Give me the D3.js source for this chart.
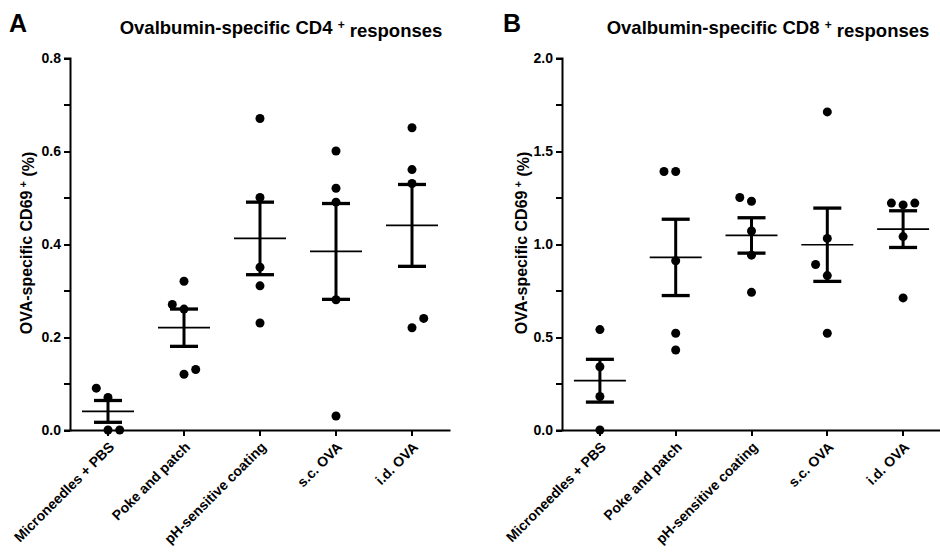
<!DOCTYPE html>
<html>
<head>
<meta charset="utf-8">
<script src="https://cdn.jsdelivr.net/npm/d3@7"></script>
<style>
  body { margin: 0; background: #fff; }
  svg { display: block; font-family: "Liberation Sans", Arial, Helvetica, sans-serif; font-weight: bold; }
</style>
</head>
<body>
<svg id="chart" width="940" height="552"></svg>
<script>
// Treatment groups (shared by both panels)
const groups = ["Microneedles + PBS", "Poke and patch", "pH-sensitive coating", "s.c. OVA", "i.d. OVA"];

// Individual animals, % OVA-specific CD69+ cells
const cd4Values = [
  [0.09, 0.07, 0.00, 0.00],
  [0.32, 0.27, 0.26, 0.12, 0.13],
  [0.67, 0.50, 0.35, 0.31, 0.23],
  [0.60, 0.52, 0.49, 0.28, 0.03],
  [0.65, 0.56, 0.53, 0.22, 0.24]
];
const cd8Values = [
  [0.54, 0.34, 0.18, 0.00],
  [1.39, 1.39, 0.91, 0.52, 0.43],
  [1.25, 1.23, 1.07, 0.94, 0.74],
  [1.71, 1.03, 0.89, 0.83, 0.52],
  [1.22, 1.21, 1.22, 1.04, 0.71]
];

// Axis ticks (labelled and minor)
const cd4Ticks = [0, 0.2, 0.4, 0.6, 0.8];
const cd4Minor = [0.1, 0.3, 0.5, 0.7];
const cd8Ticks = [0, 0.5, 1.0, 1.5, 2.0];
const cd8Minor = [0.25, 0.75, 1.25, 1.75];

const svg = d3.select("#chart");

const panels = [
  { letter: "A", cell: "CD4", values: cd4Values, ticks: cd4Ticks, minor: cd4Minor,
    x0: 70, x1: 450, letterX: 9, titleX: 281, yTitleX: 31.5, firstSide: 1 },
  { letter: "B", cell: "CD8", values: cd8Values, ticks: cd8Ticks, minor: cd8Minor,
    x0: 562, x1: 941, letterX: 503, titleX: 768, yTitleX: 527, firstSide: -1 }
];

const plotTop = 58, plotBottom = 430;
const dotR = 4.5, slotW = 11.7, clash = 12;

panels.forEach(p => {
  const g = svg.append("g");
  const x = d3.scaleBand().domain(groups).range([p.x0, p.x1]);
  const y = d3.scaleLinear().domain([0, d3.max(p.ticks)]).range([plotBottom, plotTop]);

  // panel letter and title
  g.append("text").attr("x", p.letterX).attr("y", 32)
    .style("font-size", "25px").text(p.letter);
  const t = g.append("text").attr("x", p.titleX).attr("y", 34)
    .attr("text-anchor", "middle").style("font-size", "18.5px");
  t.append("tspan").text(`Ovalbumin-specific ${p.cell} `);
  t.append("tspan").attr("dy", "-0.45em").style("font-size", "12px").text("+");
  t.append("tspan").attr("dy", "0.45em").text(" responses");

  // y axis
  const yAxis = g.append("g").attr("transform", `translate(${p.x0},0)`)
    .call(d3.axisLeft(y).tickValues(p.ticks).tickSize(6).tickPadding(3)
      .tickFormat(d3.format(".1f")));
  yAxis.selectAll(".tick text").style("font-size", "14px").style("font-weight", "bold");
  g.append("g").attr("transform", `translate(${p.x0},0)`)
    .call(d3.axisLeft(y).tickValues(p.minor).tickSize(6).tickFormat(""))
    .select(".domain").remove();

  // x axis
  const xAxis = g.append("g").attr("transform", `translate(0,${plotBottom})`)
    .call(d3.axisBottom(x).tickSize(6).tickSizeOuter(0));
  xAxis.selectAll(".tick text")
    .attr("text-anchor", "end")
    .attr("x", 0).attr("y", 0).attr("dy", 0)
    .attr("transform", "translate(7,18) rotate(-45)")
    .style("font-size", "14px").style("font-weight", "bold");

  g.selectAll(".domain, .tick line").attr("stroke", "#000").attr("stroke-width", 2);
  g.selectAll(".tick line").attr("shape-rendering", "crispEdges");

  // y axis title
  const yt = g.append("text")
    .attr("transform", `translate(${p.yTitleX},${(plotTop + plotBottom) / 2 - 1}) rotate(-90)`)
    .attr("text-anchor", "middle").style("font-size", "16px");
  yt.append("tspan").text("OVA-specific CD69");
  yt.append("tspan").attr("dy", "-0.45em").style("font-size", "11px").text(" +");
  yt.append("tspan").attr("dy", "0.45em").text("  (%)");

  // scatter points spread sideways when they would overlap
  p.values.forEach((vals, gi) => {
    const cx = x(groups[gi]) + x.bandwidth() / 2;
    const placed = [];
    let side = p.firstSide;
    vals.slice().sort((a, b) => a - b).forEach(v => {
      const py = y(v);
      const hit = s => placed.some(q => q.slot === s && Math.abs(q.py - py) < clash);
      let slot = 0;
      if (hit(0)) {
        slot = hit(side) ? -side : side;
        side = -side;
      }
      placed.push({ slot, py, v });
    });
    g.selectAll(null).data(placed).enter().append("circle")
      .attr("cx", d => cx + d.slot * slotW)
      .attr("cy", d => y(d.v))
      .attr("r", dotR)
      .attr("fill", "#000");

    // mean ± SEM
    const m = d3.mean(vals);
    const sem = d3.deviation(vals) / Math.sqrt(vals.length);
    const bars = g.append("g").attr("stroke", "#000");
    bars.append("line").attr("x1", cx).attr("x2", cx)
      .attr("y1", y(m + sem)).attr("y2", y(m - sem)).attr("stroke-width", 3);
    [m + sem, m - sem].forEach(e => {
      bars.append("line").attr("x1", cx - 14).attr("x2", cx + 14)
        .attr("y1", y(e)).attr("y2", y(e)).attr("stroke-width", 3.3);
    });
    bars.append("line").attr("x1", cx - 26).attr("x2", cx + 26)
      .attr("y1", y(m)).attr("y2", y(m)).attr("stroke-width", 1.7);
  });
});
</script>
</body>
</html>
